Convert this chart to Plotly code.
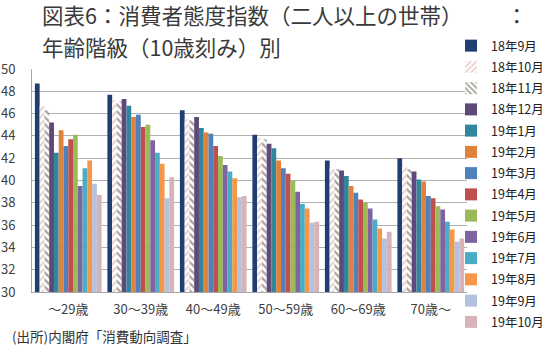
import plotly.graph_objects as go

# Age groups (x categories)
age_groups = ["～29歳", "30～39歳", "40～49歳", "50～59歳", "60～69歳", "70歳～"]

# Survey months (one bar series each)
months = ["18年9月", "18年10月", "18年11月", "18年12月", "19年1月", "19年2月", "19年3月",
          "19年4月", "19年5月", "19年6月", "19年7月", "19年8月", "19年9月", "19年10月"]

# Consumer confidence index by month, listed per age group in the order above
v_18_09 = [48.7, 47.7, 46.3, 44.1, 41.8, 42.0]
v_18_10 = [46.7, 47.2, 45.5, 43.8, 41.1, 41.4]
v_18_11 = [46.3, 47.1, 45.4, 43.7, 41.0, 41.0]
v_18_12 = [45.2, 47.3, 45.7, 43.3, 40.9, 40.8]
v_19_01 = [42.5, 46.7, 44.7, 42.9, 40.4, 40.1]
v_19_02 = [44.5, 45.7, 44.3, 41.8, 39.5, 39.9]
v_19_03 = [43.1, 45.9, 44.2, 41.1, 38.9, 38.6]
v_19_04 = [43.7, 44.8, 43.1, 40.6, 38.3, 38.4]
v_19_05 = [44.1, 45.0, 42.2, 40.0, 38.0, 37.7]
v_19_06 = [39.5, 43.6, 41.4, 39.0, 37.5, 37.4]
v_19_07 = [41.1, 42.5, 40.8, 37.9, 36.5, 36.3]
v_19_08 = [41.8, 41.5, 40.2, 37.5, 35.7, 35.6]
v_19_09 = [39.7, 38.4, 38.5, 36.2, 34.8, 34.5]
v_19_10 = [38.7, 40.3, 38.6, 36.3, 35.4, 34.8]

series = [v_18_09, v_18_10, v_18_11, v_18_12, v_19_01, v_19_02, v_19_03,
          v_19_04, v_19_05, v_19_06, v_19_07, v_19_08, v_19_09, v_19_10]

colors = ["#1F3E72", "#D9A3A3", "#4A4636", "#5F497A", "#31859C", "#E0823D", "#4F81BD",
          "#C0504D", "#9BBB59", "#8064A2", "#4BACC6", "#F79646", "#B3C3DE", "#D6B3B9"]

# Two early months are drawn with hatched fills
patterns = {1: "/", 2: "\\"}

FONT = "Noto Sans CJK JP"
TXT = "#404040"
TITLE = "#3A3A3A"

fig = go.Figure()
for i, (name, vals) in enumerate(zip(months, series)):
    if i in patterns:
        marker = dict(color="white",
                      pattern=dict(shape=patterns[i], fgcolor=colors[i], bgcolor="white",
                                   size=5, solidity=0.45))
    else:
        marker = dict(color=colors[i])
    fig.add_trace(go.Bar(x=age_groups, y=vals, name=name, marker=marker,
                         marker_line_width=0, legendgroup=name))

fig.update_layout(
    width=550, height=350,
    margin=dict(l=32, r=83, t=69, b=58, autoexpand=False),
    paper_bgcolor="white", plot_bgcolor="white",
    barmode="group", bargap=0.08, bargroupgap=0,
    font=dict(family=FONT, color=TXT, size=13),
    showlegend=True,
    legend=dict(xref="container", yref="container", x=451 / 550, y=1 - 31 / 350,
                xanchor="left", yanchor="top", font=dict(size=12.5, color="#222222"),
                itemwidth=30, tracegroupgap=2, bgcolor="rgba(0,0,0,0)",
                traceorder="grouped", maxheight=330),
)

fig.update_yaxes(range=[30, 50], dtick=2, showgrid=True, gridcolor="#B0B0B0", gridwidth=1.3,
                 showline=True, linecolor="#A6A6A6", linewidth=1,
                 ticks="outside", ticklen=13, tickcolor="rgba(0,0,0,0)",
                 automargin=False, tickfont=dict(size=13, color=TXT), fixedrange=True)
fig.update_xaxes(showline=True, linecolor="#A6A6A6", linewidth=1.3, ticks="",
                 automargin=False, ticklabelstandoff=5, tickfont=dict(size=13, color=TXT))

# Title (two lines) and source note
def px_x(px):
    return (px - 32) / 435

def px_y(py):
    return (292 - py) / 223

fig.add_annotation(text="図表6：消費者態度指数（二人以上の世帯）",
                   xref="paper", yref="paper", x=px_x(40), y=px_y(15),
                   showarrow=False, xanchor="left", yanchor="middle",
                   font=dict(size=21.5, color=TITLE))
fig.add_annotation(text="：", xref="paper", yref="paper", x=px_x(504), y=px_y(15),
                   showarrow=False, xanchor="left", yanchor="middle",
                   font=dict(size=21.5, color=TITLE))
fig.add_annotation(text="年齢階級（10歳刻み）別",
                   xref="paper", yref="paper", x=px_x(40), y=px_y(47),
                   showarrow=False, xanchor="left", yanchor="middle",
                   font=dict(size=21.5, color=TITLE))
fig.add_annotation(text="(出所)内閣府「消費動向調査」",
                   xref="paper", yref="paper", x=px_x(10), y=px_y(336),
                   showarrow=False, xanchor="left", yanchor="middle",
                   font=dict(size=13.5, color="#333333"))

fig.write_html("out.html")
